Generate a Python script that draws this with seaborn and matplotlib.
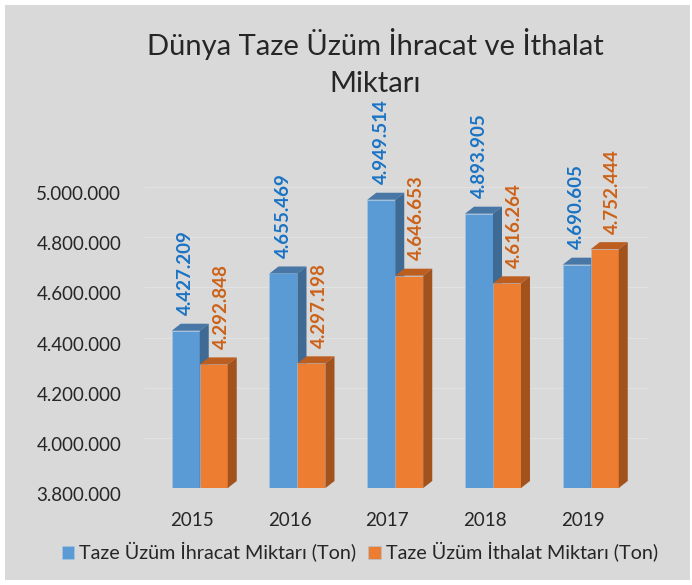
import pandas as pd
import matplotlib.pyplot as plt
import seaborn as sns
from matplotlib.patches import Polygon, Rectangle
from matplotlib.transforms import ScaledTranslation

# Data
years = ['2015', '2016', '2017', '2018', '2019']
ihracat = [4427209, 4655469, 4949514, 4893905, 4690605]
ithalat = [4292848, 4297198, 4646653, 4616264, 4752444]
series = ['Taze Üzüm İhracat Miktarı (Ton)', 'Taze Üzüm İthalat Miktarı (Ton)']
y_ticks = [3800000, 4000000, 4200000, 4400000, 4600000, 4800000, 5000000]

df = pd.DataFrame({
    'Yıl': years * 2,
    'Miktar': ihracat + ithalat,
    'Seri': [series[0]] * len(years) + [series[1]] * len(years),
})

front = ['#5B9BD5', '#ED7D31']
side = ['#3E6A94', '#A2521D']
top = ['#4877A6', '#BB5E20']
text_col = ['#1A73C4', '#CC6218']
bg = '#D9D9D9'

sns.set_style('white')
plt.rcParams['font.family'] = ['Lato', 'DejaVu Sans']

fig = plt.figure(figsize=(6.92, 5.85), dpi=100, facecolor='white')
fig.patches.append(Rectangle((5 / 692, 5 / 585), 685 / 692, 575 / 585,
                             transform=fig.transFigure, facecolor=bg,
                             edgecolor='none', zorder=-10))

ax = fig.add_axes([145 / 692, 97 / 585, 504.4 / 692, 326 / 585])
ax.set_facecolor(bg)

sns.barplot(data=df, x='Yıl', y='Miktar', hue='Seri', palette=front,
            saturation=1, width=0.573, ax=ax, edgecolor='#A9C6E6',
            linewidth=0.4, zorder=2)

ymin, ymax = 3800000, 5100000
ax.set_ylim(ymin, ymax)
ax.set_xlim(-0.56, 4.6)

# 3D depth in data units (about 9 px right, 7 px up)
dx = 9 / 97.75
dy = 7 / 250.8 * 1e6

for i, cont in enumerate(ax.containers):
    for bar in cont:
        x0, w, h = bar.get_x(), bar.get_width(), bar.get_height()
        bar.set_zorder(2 + i)
        ax.add_patch(Polygon([(x0, h), (x0 + w, h), (x0 + w + dx, h + dy), (x0 + dx, h + dy)],
                             closed=True, facecolor=top[i], edgecolor='none', zorder=2.5 + i))
        ax.add_patch(Polygon([(x0 + w, ymin), (x0 + w, h), (x0 + w + dx, h + dy), (x0 + w + dx, ymin + dy)],
                             closed=True, facecolor=side[i], edgecolor='none', zorder=2.5 + i))
        ax.annotate(f'{int(h):,}'.replace(',', '.'), (x0 + w / 2, h),
                    xytext=(0 if i == 0 else 5.5, 11), textcoords='offset points',
                    rotation=90, ha='center', va='bottom', fontsize=13.5,
                    fontweight='bold', color=text_col[i], annotation_clip=False)

ax.set_yticks(y_ticks)
ax.set_yticklabels([f'{v:,}'.replace(',', '.') for v in y_ticks], fontsize=13.5)
ax.tick_params(axis='y', length=0, pad=17)
ax.tick_params(axis='x', length=0, pad=17, labelsize=13.5)
for lbl in ax.get_yticklabels():
    lbl.set_transform(lbl.get_transform() + ScaledTranslation(0, -0.06, fig.dpi_scale_trans))
for lbl in ax.get_xticklabels():
    lbl.set_transform(lbl.get_transform() + ScaledTranslation(-0.08, 0, fig.dpi_scale_trans))

ax.yaxis.grid(True, color='#E2E2E2', linewidth=0.8, zorder=0)
ax.set_axisbelow(True)
for s in ax.spines.values():
    s.set_visible(False)
ax.set_xlabel('')
ax.set_ylabel('')

handles, labels = ax.get_legend_handles_labels()
ax.legend_.remove()
fig.legend(handles, labels, loc='center', bbox_to_anchor=(0.52, 0.056),
           ncol=2, frameon=False, fontsize=14.2, handlelength=0.65,
           handleheight=0.65, handletextpad=0.25, columnspacing=0.6)

fig.text(0.542, 0.893, 'Dünya Taze Üzüm İhracat ve İthalat\nMiktarı', ha='center',
         va='center', fontsize=21, linespacing=1.55)

plt.savefig('out.png', dpi=100, facecolor=fig.get_facecolor())
